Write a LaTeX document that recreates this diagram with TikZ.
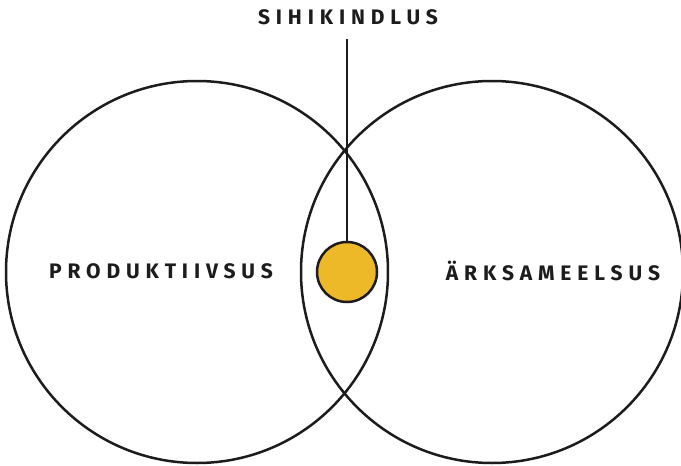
\documentclass[tikz,border=0pt]{standalone}
\usepackage{fontspec}
\newfontfamily\handfont{Fira Sans}[LetterSpace=28]
\usetikzlibrary{positioning}
\definecolor{Ink}{RGB}{28,28,28}
\definecolor{Sun}{RGB}{238,185,40}

\begin{document}
\begin{tikzpicture}[
    x=1pt, y=-1pt,
    ring/.style={draw=Ink, circle, line width=2.5pt, minimum size=382pt, inner sep=0pt},
    dot/.style={draw=Ink, circle, fill=Sun, line width=2.5pt, minimum size=60pt, inner sep=0pt},
    word/.style={font=\handfont\bfseries\fontsize{21}{23}\selectfont, text=Ink, inner sep=2pt},
    link/.style={draw=Ink, line width=2pt, shorten <=12pt}
    ]
    \fill[white] (0,0) rectangle (681,466);
    \useasboundingbox (0,0) rectangle (681,466);

    \node[word] (sihi) at (348,17)  {SIHIKINDLUS};
    \node[word] (ptxt) at (161,271) {PRODUKTIIVSUS};
    \node[word] (atxt) at (553,271) {ÄRKSAMEELSUS};

    \node[ring] (prod) at (197,272) {};
    \node[ring] (ark)  at (492,272) {};
    \node[dot]  (goal) at (347,272) {};

    \draw[link] (sihi.south -| goal.north) -- (goal.north);
  \end{tikzpicture}
\end{document}
